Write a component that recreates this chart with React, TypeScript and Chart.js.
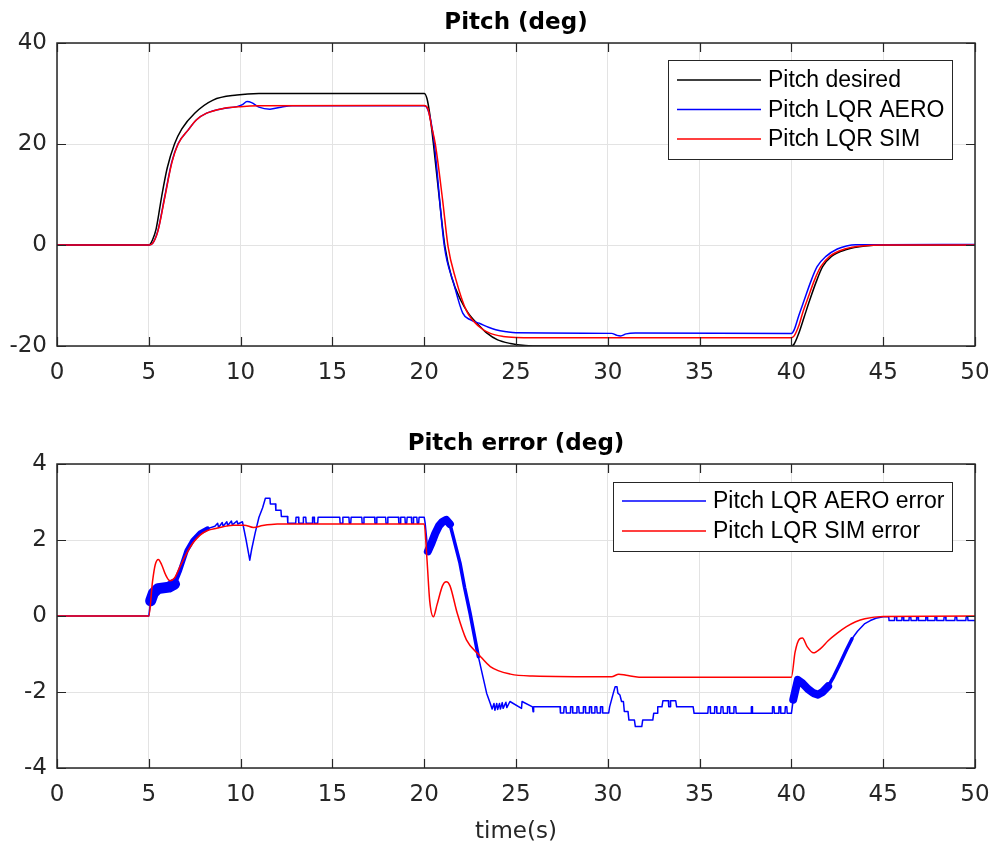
import { useEffect, useRef } from "react";
import { Chart, registerables } from "chart.js";

Chart.register(...registerables);

// ---------------- Data (time in s, values in deg) ----------------
const X_TICKS_STEP = 5;

const PITCH_DESIRED: [number, number][] = [
  [0, 0], [5.0, 0], [5.2, 1.0], [5.4, 3.2], [5.7, 9.6], [6.0, 15.2], [6.4, 20.0], [6.8, 23.0],
  [7.5, 26.1], [8.5, 28.7], [9.8, 29.7], [11.0, 30.0], [20.0, 30.0], [20.15, 29.0], [20.3, 26.0],
  [20.5, 20.1], [20.8, 10.0], [21.13, -0.3], [21.5, -6.5], [22.0, -11.0], [22.4, -13.5], [23.0, -16.0],
  [23.4, -17.4], [24.0, -18.8], [24.7, -19.5], [25.5, -19.9], [26.5, -20.0], [40.0, -20.0],
  [40.15, -19.6], [40.4, -17.5], [40.7, -14.2], [41.0, -10.9], [41.35, -7.3], [41.7, -4.3],
  [42.2, -2.2], [43.0, -0.9], [44.0, -0.2], [45.0, 0.0], [50, 0.0],
];

const PITCH_AERO: [number, number][] = [
  [0, 0], [5.0, 0], [5.2, 0.3], [5.5, 2.9], [5.88, 9.8], [6.25, 16.4], [6.6, 20.1], [7.15, 22.8],
  [7.6, 24.8], [8.15, 26.1], [9.0, 27.0], [9.8, 27.4], [10.1, 27.8], [10.35, 28.4], [10.6, 28.2],
  [11.0, 27.3], [11.6, 26.9], [12.2, 27.3], [12.8, 27.55], [20.0, 27.55], [20.2, 26.8], [20.4, 23.8],
  [20.55, 20.1], [21.1, -0.3], [21.6, -7.5], [22.1, -13.5], [22.5, -14.8], [23.0, -15.5],
  [23.5, -16.3], [23.9, -16.8], [24.5, -17.2], [25.0, -17.4], [30.2, -17.5], [30.5, -17.9],
  [30.7, -18.0], [31.0, -17.6], [31.5, -17.45], [40.0, -17.5], [40.15, -16.8], [40.4, -14.0],
  [40.7, -10.9], [41.05, -7.3], [41.4, -4.3], [41.9, -2.2], [42.5, -0.8], [43.0, -0.2],
  [43.5, 0.05], [45.0, 0.05], [50, 0.1],
];

const PITCH_SIM: [number, number][] = [
  [0, 0], [5.0, 0], [5.2, 0.3], [5.5, 2.8], [5.88, 9.6], [6.25, 16.2], [6.6, 20.0], [7.15, 22.8],
  [7.6, 24.8], [8.15, 26.1], [9.0, 27.0], [10.0, 27.4], [11.0, 27.55], [20.0, 27.6], [20.2, 27.0],
  [20.4, 23.5], [20.6, 20.1], [21.0, 9.0], [21.3, -0.3], [21.7, -6.5], [22.3, -13.0], [23.0, -16.2],
  [23.6, -17.5], [24.3, -18.1], [25.0, -18.3], [26.0, -18.35], [40.0, -18.35], [40.15, -18.0],
  [40.4, -16.0], [40.65, -13.0], [40.9, -10.5], [41.25, -7.0], [41.6, -4.3], [42.1, -2.2],
  [42.9, -0.8], [44.0, -0.15], [45.0, 0.0], [50, 0.0],
];

const AERO_ERROR: [number, number][] = [
  [0, 0], [5.0, 0], [5.1, 0.4], [5.25, 0.6], [5.5, 0.72], [5.8, 0.74], [6.1, 0.76], [6.4, 0.84],
  [6.7, 1.2], [7.06, 1.72], [7.4, 2.0], [7.8, 2.2], [8.2, 2.3], [8.6, 2.36],
  [8.75, 2.44], [8.8, 2.33], [9.0, 2.46], [9.05, 2.36], [9.25, 2.48], [9.3, 2.38], [9.5, 2.5],
  [9.55, 2.4], [9.8, 2.5], [9.85, 2.42], [10.1, 2.48],
  [10.3, 2.0], [10.5, 1.47], [10.6, 1.75], [10.8, 2.2], [11.0, 2.6], [11.2, 2.85], [11.35, 3.1],
  [11.6, 3.1], [11.62, 2.95], [11.9, 2.95], [11.92, 2.78], [12.2, 2.78], [12.22, 2.62], [12.55, 2.62],
  [12.57, 2.44], [13.0, 2.44], [13.02, 2.6], [13.15, 2.6], [13.17, 2.44], [13.4, 2.44], [13.42, 2.6],
  [13.55, 2.6], [13.57, 2.44], [13.9, 2.44], [13.92, 2.6], [14.0, 2.6], [14.02, 2.44], [14.2, 2.44],
  [14.22, 2.6], [15.4, 2.6], [15.42, 2.44], [15.55, 2.44], [15.57, 2.6], [15.9, 2.6], [15.92, 2.44],
  [16.0, 2.44], [16.02, 2.6], [16.6, 2.6], [16.62, 2.44], [16.7, 2.44], [16.72, 2.6], [17.3, 2.6],
  [17.32, 2.44], [17.4, 2.44], [17.42, 2.6], [17.9, 2.6], [17.92, 2.44], [18.0, 2.44], [18.02, 2.6],
  [18.6, 2.6], [18.62, 2.44], [18.7, 2.44], [18.72, 2.6], [18.95, 2.6], [18.97, 2.44], [19.05, 2.44],
  [19.07, 2.6], [19.3, 2.6], [19.32, 2.44], [19.4, 2.44], [19.42, 2.6], [19.6, 2.6], [19.62, 2.44],
  [19.7, 2.44], [19.72, 2.6], [20.0, 2.6],
  [20.05, 2.45], [20.2, 1.7], [20.4, 1.92], [20.6, 2.17], [20.8, 2.37], [21.0, 2.48], [21.2, 2.53],
  [21.4, 2.42], [21.6, 2.05], [21.95, 1.39], [22.2, 0.75], [22.5, 0.07], [22.95, -1.07], [23.2, -1.6],
  [23.4, -2.03], [23.6, -2.3], [23.7, -2.45],
  [23.8, -2.3], [23.85, -2.48], [23.95, -2.3], [24.0, -2.46], [24.1, -2.3], [24.15, -2.45],
  [24.25, -2.28], [24.3, -2.43], [24.45, -2.27], [24.5, -2.41], [24.67, -2.25], [25.3, -2.43],
  [25.33, -2.25], [25.9, -2.39], [25.93, -2.52], [25.96, -2.39], [27.4, -2.39], [27.42, -2.55],
  [27.6, -2.55], [27.62, -2.39], [27.72, -2.39], [27.74, -2.55], [27.95, -2.55], [27.97, -2.39],
  [28.07, -2.39], [28.09, -2.55], [28.3, -2.55], [28.32, -2.39], [28.42, -2.39], [28.44, -2.55],
  [28.65, -2.55], [28.67, -2.39], [28.77, -2.39], [28.79, -2.55], [28.98, -2.55], [29.0, -2.39],
  [29.1, -2.39], [29.12, -2.55], [29.28, -2.55], [29.3, -2.39], [29.4, -2.39], [29.42, -2.55],
  [29.58, -2.55], [29.6, -2.39], [29.7, -2.39], [29.72, -2.55], [30.05, -2.55],
  [30.1, -2.39], [30.3, -2.03], [30.4, -1.86], [30.5, -1.86], [30.55, -2.03], [30.66, -2.08],
  [30.75, -2.25], [30.85, -2.25], [30.9, -2.51], [31.1, -2.51], [31.15, -2.74], [31.45, -2.74],
  [31.5, -2.91], [31.85, -2.91], [31.9, -2.74], [32.45, -2.74], [32.5, -2.56], [32.7, -2.56],
  [32.72, -2.39], [32.95, -2.39], [33.0, -2.23], [33.3, -2.23], [33.32, -2.39], [33.4, -2.39],
  [33.42, -2.23], [33.7, -2.23], [33.75, -2.39], [34.65, -2.39], [34.7, -2.56],
  [35.45, -2.56], [35.47, -2.39], [35.57, -2.39], [35.59, -2.56], [35.8, -2.56], [35.82, -2.39],
  [35.92, -2.39], [35.94, -2.56], [36.15, -2.56], [36.17, -2.39], [36.27, -2.39], [36.29, -2.56],
  [36.5, -2.56], [36.52, -2.39], [36.62, -2.39], [36.64, -2.56], [36.85, -2.56], [36.87, -2.39],
  [36.97, -2.39], [36.99, -2.56], [37.8, -2.56], [37.82, -2.39], [37.86, -2.39], [37.88, -2.56],
  [38.95, -2.56], [38.97, -2.39], [39.05, -2.39], [39.07, -2.56], [39.3, -2.56], [39.32, -2.39],
  [39.4, -2.39], [39.42, -2.56], [39.65, -2.56], [39.67, -2.39], [39.75, -2.39], [39.77, -2.56],
  [40.0, -2.56],
  [40.1, -2.2], [40.35, -1.68], [40.6, -1.77], [40.9, -1.92], [41.2, -2.03], [41.45, -2.07],
  [41.7, -2.0], [42.0, -1.85], [42.3, -1.6], [42.6, -1.3], [43.0, -0.89], [43.3, -0.6], [43.6, -0.4],
  [44.0, -0.2], [44.3, -0.12], [44.6, -0.06], [45.0, -0.02],
  [45.3, -0.02], [45.32, -0.12], [45.6, -0.12], [45.62, -0.02], [45.72, -0.02], [45.74, -0.12],
  [46.0, -0.12], [46.02, -0.02], [46.1, -0.02], [46.12, -0.12], [46.4, -0.12], [46.42, -0.02],
  [46.5, -0.02], [46.52, -0.12], [46.8, -0.12], [46.82, -0.02], [46.9, -0.02], [46.92, -0.12],
  [47.3, -0.12], [47.32, -0.02], [47.4, -0.02], [47.42, -0.12], [47.8, -0.12], [47.82, -0.02],
  [47.9, -0.02], [47.92, -0.12], [48.3, -0.12], [48.32, -0.02], [48.4, -0.02], [48.42, -0.12],
  [48.9, -0.12], [48.92, -0.02], [49.0, -0.02], [49.02, -0.12], [49.5, -0.12], [49.52, -0.02],
  [49.6, -0.02], [49.62, -0.12], [50, -0.12],
];

const SIM_ERROR: [number, number][] = [
  [0, 0], [5.0, 0], [5.2, 0.9], [5.35, 1.35], [5.52, 1.49], [5.7, 1.35], [5.9, 1.1], [6.15, 0.93],
  [6.4, 1.0], [6.7, 1.3], [7.06, 1.65], [7.4, 1.92], [7.79, 2.13], [8.2, 2.25], [8.7, 2.31],
  [9.6, 2.39], [10.2, 2.39], [10.7, 2.33], [11.2, 2.38], [12.0, 2.42], [20.0, 2.42], [20.15, 1.5],
  [20.3, 0.4], [20.5, -0.02], [20.7, 0.3], [21.0, 0.8], [21.2, 0.9], [21.4, 0.8], [21.8, 0.07],
  [22.3, -0.63], [23.0, -1.03], [23.6, -1.33], [24.7, -1.53], [25.9, -1.58], [30.2, -1.6],
  [30.6, -1.53], [31.0, -1.56], [31.7, -1.61], [40.0, -1.61], [40.2, -0.95], [40.45, -0.6],
  [40.6, -0.58], [40.85, -0.8], [41.2, -0.97], [41.6, -0.85], [42.0, -0.65], [42.5, -0.45],
  [43.0, -0.28], [43.5, -0.15], [44.0, -0.07], [45.0, -0.01], [50, 0],
];

// time ranges where the AERO error oscillates densely (drawn as a thick band) and the band width
const AERO_ERROR_BANDS: [number, number, number][] = [
  [5.12, 6.5, 11], [6.5, 8.2, 4.5], [20.15, 21.5, 8], [21.5, 23.0, 3.5], [40.15, 42.0, 8], [42.0, 43.3, 3.5],
];

// ---------------- Styling ----------------
const AXIS_COLOR = "#262626";
const GRID_COLOR = "#e3e3e3";
const TICK_FONT = { family: "'DejaVu Sans'", size: 23 };

const toPts = (arr: [number, number][]) => arr.map(([x, y]) => ({ x, y }));

const matlabPlugin = {
  id: "matlabFrame",
  afterDraw(chart: any, _args: any, opts: any) {
    const { ctx, chartArea: a, scales } = chart;
    ctx.save();
    ctx.strokeStyle = AXIS_COLOR;
    ctx.lineWidth = 1.5;
    ctx.strokeRect(a.left, a.top, a.right - a.left, a.bottom - a.top);
    const tl = 9;
    ctx.lineWidth = 1.2;
    ctx.beginPath();
    scales.x.ticks.forEach((t: any) => {
      const px = Math.round(scales.x.getPixelForValue(t.value)) + 0.5;
      ctx.moveTo(px, a.bottom);
      ctx.lineTo(px, a.bottom - tl);
      ctx.moveTo(px, a.top);
      ctx.lineTo(px, a.top + tl);
    });
    scales.y.ticks.forEach((t: any) => {
      const py = Math.round(scales.y.getPixelForValue(t.value)) + 0.5;
      ctx.moveTo(a.left, py);
      ctx.lineTo(a.left + tl, py);
      ctx.moveTo(a.right, py);
      ctx.lineTo(a.right - tl, py);
    });
    ctx.stroke();

    ctx.fillStyle = "#000";
    ctx.font = "bold 23px 'DejaVu Sans'";
    ctx.textAlign = "center";
    ctx.textBaseline = "alphabetic";
    ctx.fillText(opts.title, (a.left + a.right) / 2, opts.titleY);

    if (opts.xlabel) {
      ctx.fillStyle = AXIS_COLOR;
      ctx.font = "23px 'DejaVu Sans'";
      ctx.fillText(opts.xlabel, (a.left + a.right) / 2, opts.xlabelY);
    }

    const lg = opts.legend;
    ctx.fillStyle = "#fff";
    ctx.fillRect(lg.x, lg.y, lg.w, lg.h);
    ctx.strokeStyle = AXIS_COLOR;
    ctx.lineWidth = 1;
    ctx.strokeRect(lg.x + 0.5, lg.y + 0.5, lg.w, lg.h);
    ctx.font = "23px 'Liberation Sans'";
    ctx.textAlign = "left";
    ctx.textBaseline = "middle";
    lg.items.forEach((it: any, i: number) => {
      const yy = lg.firstRowY + i * lg.rowGap;
      ctx.strokeStyle = it.color;
      ctx.lineWidth = 1.5;
      ctx.beginPath();
      ctx.moveTo(lg.x + 9, yy);
      ctx.lineTo(lg.x + 93, yy);
      ctx.stroke();
      ctx.fillStyle = "#000";
      ctx.fillText(it.label, lg.x + 100, yy + 1);
    });
    ctx.restore();
  },
};

function scaleOpts(min: number, max: number, step: number, isX: boolean) {
  return {
    type: "linear" as const,
    min,
    max,
    ticks: {
      stepSize: step,
      font: TICK_FONT,
      color: AXIS_COLOR,
      padding: isX ? 13 : 10,
      maxRotation: 0,
      autoSkip: false,
    },
    grid: { color: GRID_COLOR, lineWidth: 1, drawTicks: false },
    border: { display: false },
    afterFit: (s: any) => {
      if (isX) {
        s.height = 40;
        s.paddingLeft = 0;
        s.paddingRight = 0;
      } else {
        s.width = 57;
        s.paddingTop = 0;
        s.paddingBottom = 0;
      }
    },
  };
}

function bandWidth(x0: number, x1: number) {
  const m = (x0 + x1) / 2;
  for (const [a, b, w] of AERO_ERROR_BANDS) if (m >= a && m < b) return w;
  return 1.5;
}

export default function App() {
  const topRef = useRef<HTMLCanvasElement>(null);
  const botRef = useRef<HTMLCanvasElement>(null);

  useEffect(() => {
    const common = {
      animation: false as const,
      responsive: false,
      events: [] as any[],
      plugins: { legend: { display: false }, tooltip: { enabled: false } },
    };

    const c1 = new Chart(topRef.current!, {
      type: "line",
      data: {
        datasets: [
          { label: "Pitch desired", data: toPts(PITCH_DESIRED), borderColor: "#000000", borderWidth: 1.5, pointRadius: 0, cubicInterpolationMode: "monotone", order: 3 },
          { label: "Pitch LQR AERO", data: toPts(PITCH_AERO), borderColor: "#0000ff", borderWidth: 1.5, pointRadius: 0, cubicInterpolationMode: "monotone", order: 2 },
          { label: "Pitch LQR SIM", data: toPts(PITCH_SIM), borderColor: "#ff0000", borderWidth: 1.5, pointRadius: 0, cubicInterpolationMode: "monotone", order: 1 },
        ],
      },
      options: {
        ...common,
        layout: { padding: { top: 43, right: 17, bottom: 34, left: 0 } },
        scales: {
          x: scaleOpts(0, 50, X_TICKS_STEP, true),
          y: scaleOpts(-20, 40, 20, false),
        },
        plugins: {
          ...common.plugins,
          matlabFrame: {
            title: "Pitch (deg)",
            titleY: 29,
            legend: {
              x: 668, y: 60, w: 284, h: 99, firstRowY: 80, rowGap: 29.5,
              items: [
                { label: "Pitch desired", color: "#000000" },
                { label: "Pitch LQR AERO", color: "#0000ff" },
                { label: "Pitch LQR SIM", color: "#ff0000" },
              ],
            },
          },
        } as any,
      },
      plugins: [matlabPlugin],
    } as any);

    const c2 = new Chart(botRef.current!, {
      type: "line",
      data: {
        datasets: [
          {
            label: "Pitch LQR AERO error",
            data: toPts(AERO_ERROR),
            borderColor: "#0000ff",
            borderWidth: 1.5,
            borderJoinStyle: "round",
            borderCapStyle: "round",
            pointRadius: 0,
            tension: 0,
            order: 2,
            segment: { borderWidth: (ctx: any) => bandWidth(ctx.p0.parsed.x, ctx.p1.parsed.x) },
          },
          { label: "Pitch LQR SIM error", data: toPts(SIM_ERROR), borderColor: "#ff0000", borderWidth: 1.5, pointRadius: 0, cubicInterpolationMode: "monotone", order: 1 },
        ],
      },
      options: {
        ...common,
        layout: { padding: { top: 44, right: 17, bottom: 42, left: 0 } },
        scales: {
          x: scaleOpts(0, 50, X_TICKS_STEP, true),
          y: scaleOpts(-4, 4, 2, false),
        },
        plugins: {
          ...common.plugins,
          matlabFrame: {
            title: "Pitch error (deg)",
            titleY: 30,
            xlabel: "time(s)",
            xlabelY: 418,
            legend: {
              x: 613, y: 62, w: 339, h: 69, firstRowY: 81, rowGap: 30,
              items: [
                { label: "Pitch LQR AERO error", color: "#0000ff" },
                { label: "Pitch LQR SIM error", color: "#ff0000" },
              ],
            },
          },
        } as any,
      },
      plugins: [matlabPlugin],
    } as any);

    return () => {
      c1.destroy();
      c2.destroy();
    };
  }, []);

  return (
    <div style={{ position: "absolute", left: 0, top: 0, width: 992, height: 850, background: "#ffffff" }}>
      <canvas ref={topRef} width={992} height={420} style={{ position: "absolute", left: 0, top: 0, width: 992, height: 420 }} />
      <canvas ref={botRef} width={992} height={430} style={{ position: "absolute", left: 0, top: 420, width: 992, height: 430 }} />
    </div>
  );
}
